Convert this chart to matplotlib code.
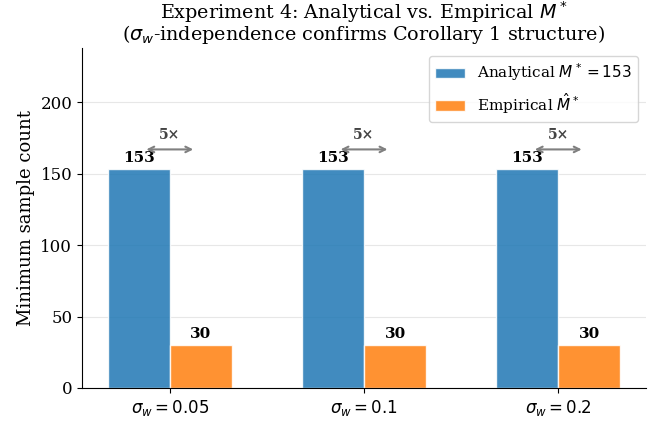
import matplotlib
matplotlib.use("Agg")
import matplotlib.pyplot as plt
import numpy as np

plt.rcParams['font.family'] = 'DejaVu Serif'
plt.rcParams['mathtext.fontset'] = 'dejavusans'

categories = [r'$\sigma_w = 0.05$', r'$\sigma_w = 0.1$', r'$\sigma_w = 0.2$']
analytical = [153, 153, 153]
empirical = [30, 30, 30]
ratio_labels = ['5×', '5×', '5×']

fig, ax = plt.subplots(figsize=(6.6, 4.21), dpi=100)
x = np.arange(len(categories))
w = 0.32
ax.bar(x - w/2, analytical, w, color='#1f77b4', alpha=0.85, edgecolor='white',
       label=r'Analytical $M^* = 153$')
ax.bar(x + w/2, empirical, w, color='#ff7f0e', alpha=0.85, edgecolor='white',
       label=r'Empirical $\hat{M}^*$')

for i in range(len(x)):
    ax.text(x[i] - w/2, analytical[i] + 3, str(analytical[i]), ha='center', va='bottom',
            fontsize=11, fontweight='bold')
    ax.text(x[i] + w/2, empirical[i] + 3, str(empirical[i]), ha='center', va='bottom',
            fontsize=11, fontweight='bold')
    ax.annotate('', xy=(x[i] + 0.135, 167), xytext=(x[i] - 0.135, 167),
                arrowprops=dict(arrowstyle='<->', color='gray', lw=1.5))
    ax.text(x[i], 172, ratio_labels[i], ha='center', va='bottom',
            fontsize=10, fontweight='bold', color='#444444')

ax.set_xticks(x)
ax.set_xticklabels(categories, fontsize=12)
ax.tick_params(axis='y', labelsize=12)
ax.set_ylabel('Minimum sample count', fontsize=13)
ax.set_title('Experiment 4: Analytical vs. Empirical $M^*$\n'
             r'($\sigma_w$-independence confirms Corollary 1 structure)',
             fontsize=13.75, linespacing=0.85)
ax.set_ylim(0, 238)
ax.legend(loc='upper right', fontsize=11)
ax.grid(axis='y', alpha=0.3)
ax.set_axisbelow(True)
ax.spines['top'].set_visible(False)
ax.spines['right'].set_visible(False)
fig.subplots_adjust(left=82/660, right=646/660, top=1-48/421, bottom=1-388/421)
fig.savefig('out.png', dpi=100)
